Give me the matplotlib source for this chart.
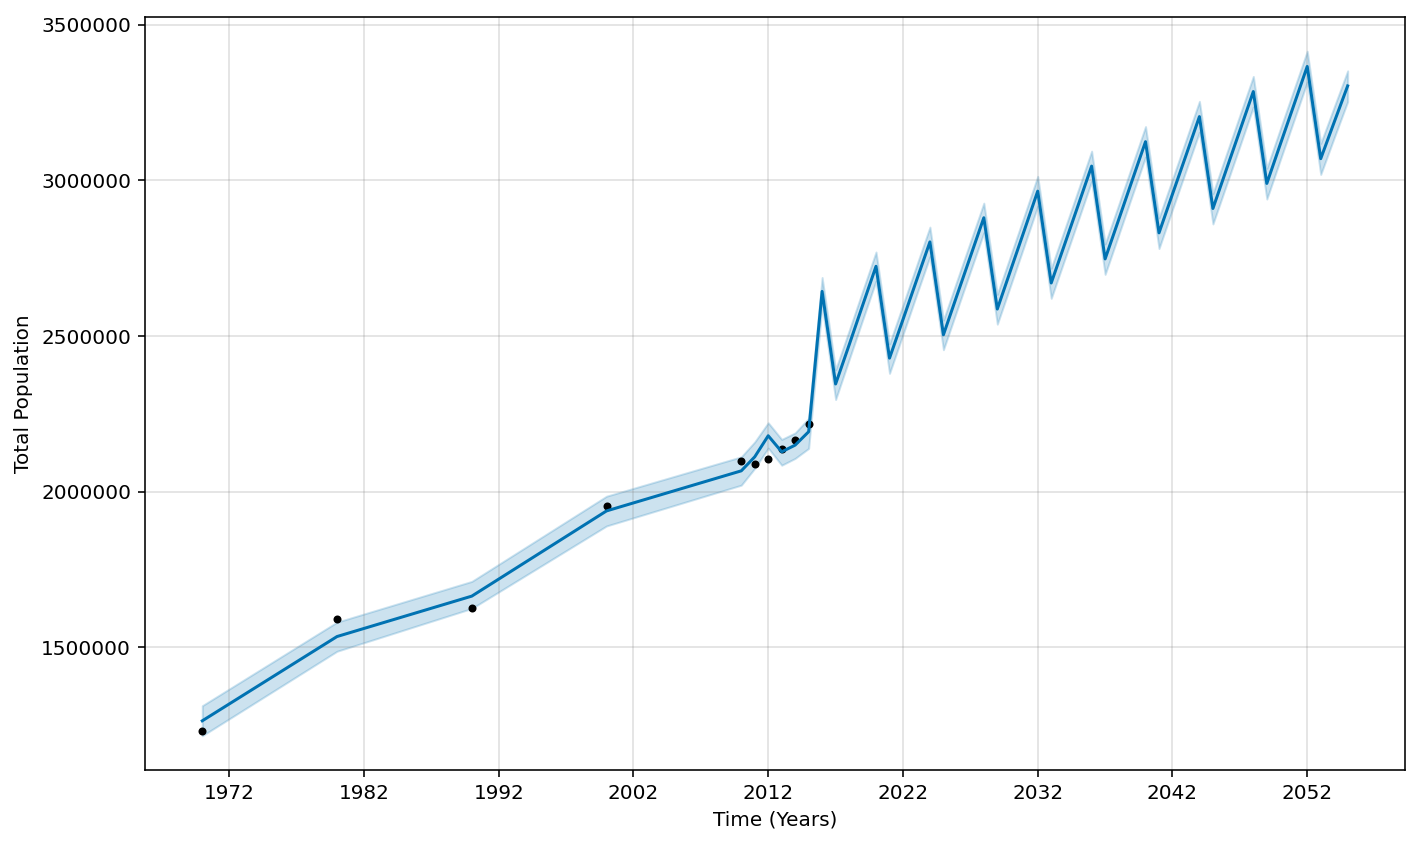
import datetime as dt

import matplotlib
matplotlib.use("Agg")
import matplotlib.pyplot as plt
import matplotlib.dates as mdates

# observed population
hist_years = [1970, 1980, 1990, 2000, 2010, 2011, 2012, 2013, 2014, 2015]
hist_pop = [1232000, 1591700, 1627100, 1953300, 2098000,
            2088500, 2105600, 2136000, 2166000, 2216400]

# forecast (yhat with uncertainty interval)
fc_years = [1970, 1980, 1990, 2000] + list(range(2010, 2056))
yhat = [1264000, 1534700, 1664500, 1938200,
        2067000, 2112000, 2179700, 2128000, 2149700, 2192600,
        2643400, 2346000, 2471000, 2598000, 2724000,
        2429000, 2553000, 2678000, 2802400,
        2504000, 2630000, 2755000, 2880000,
        2586700, 2713000, 2839000, 2965400,
        2670400, 2795000, 2920000, 3045900,
        2747700, 2873000, 2999000, 3124400,
        2831400, 2956000, 3080000, 3204900,
        2909700, 3035000, 3160000, 3285400,
        2990200, 3116000, 3241000, 3366000,
        3069700, 3187000, 3303500]
yhat_lower = [1216000, 1487400, 1624900, 1889900,
              2021000, 2075000, 2140000, 2085000, 2107000, 2139000,
              2598000, 2296000, 2424000, 2551000, 2677000,
              2380000, 2505000, 2631000, 2755000,
              2456000, 2582000, 2707000, 2832000,
              2538000, 2664000, 2790000, 2917000,
              2621000, 2746000, 2871000, 2997000,
              2698000, 2824000, 2950000, 3075000,
              2781000, 2907000, 3031000, 3155000,
              2860000, 2985000, 3110000, 3236000,
              2940000, 3066000, 3191000, 3316000,
              3019000, 3137000, 3253000]
yhat_upper = [1312500, 1581000, 1711800, 1985500,
              2112000, 2160000, 2221500, 2168000, 2189000, 2235700,
              2688000, 2392000, 2517000, 2644000, 2770000,
              2475000, 2600000, 2725000, 2850000,
              2551000, 2677000, 2802000, 2927000,
              2634000, 2760000, 2886000, 3013000,
              2718000, 2843000, 2968000, 3094000,
              2796000, 2921000, 3047000, 3173000,
              2880000, 3004000, 3129000, 3254000,
              2958000, 3084000, 3209000, 3334000,
              3039000, 3165000, 3290000, 3415000,
              3119000, 3236000, 3352000]

tick_years = [1972, 1982, 1992, 2002, 2012, 2022, 2032, 2042, 2052]

hist_t = [dt.datetime(y, 1, 1) for y in hist_years]
fc_t = [dt.datetime(y, 1, 1) for y in fc_years]

fig, ax = plt.subplots(figsize=(1423 / 144, 844 / 144), dpi=144, facecolor='w')
fig.subplots_adjust(left=0.1019, right=0.9873, top=0.9799, bottom=0.0877)

ax.plot(hist_t, hist_pop, 'k.')
ax.plot(fc_t, yhat, ls='-', c='#0072B2')
ax.fill_between(fc_t, yhat_lower, yhat_upper, color='#0072B2', alpha=0.2)

ax.grid(True, which='major', c='gray', ls='-', lw=1, alpha=0.2)
ax.set_xticks([dt.datetime(y, 1, 1) for y in tick_years])
ax.xaxis.set_major_formatter(mdates.DateFormatter('%Y'))
ax.ticklabel_format(style='plain', axis='y', useOffset=False)

ax.set_xlabel('Time (Years)')
ax.set_ylabel('Total Population')

fig.savefig('out.png', dpi=144)
